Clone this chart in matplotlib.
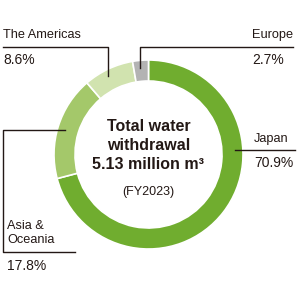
import matplotlib
matplotlib.use("Agg")
import matplotlib.pyplot as plt

# data
regions = ["Japan", "Asia &\nOceania", "The Americas", "Europe"]
shares = [70.9, 17.8, 8.6, 2.7]
colors = ["#70ad2f", "#a4c86a", "#d1e3af", "#b3b3b3"]
center_lines = ["Total water", "withdrawal", "5.13 million m³"]
fiscal_year = "(FY2023)"

plt.rcParams["font.family"] = ["Liberation Sans", "DejaVu Sans"]
ink = "#231815"


def Y(y):
    # pixel rows from the top -> data coords
    return 300 - y


fig = plt.figure(figsize=(3, 3), dpi=100)
ax = fig.add_axes([0, 0, 1, 1])

ax.pie(shares, colors=colors, startangle=90, counterclock=False,
       center=(148.5, Y(154.5)), radius=94.5,
       wedgeprops=dict(width=21, edgecolor="white", linewidth=1.2))
ax.set_xlim(0, 300)
ax.set_ylim(0, 300)
ax.set_aspect("equal")
ax.axis("off")

# centre text
for txt, yy in zip(center_lines, [126.5, 145, 164.5]):
    ax.text(148.5, Y(yy), txt, ha="center", va="center", fontsize=11.5,
            fontweight="bold", color=ink)
ax.text(148.5, Y(192), fiscal_year, ha="center", va="center", fontsize=9, color=ink)

lw = 1.0
lab = 9.2
pct = 10
# The Americas
ax.plot([3, 108, 108], [Y(47), Y(47), Y(76)], color=ink, lw=lw)
ax.text(3, Y(35), regions[2], ha="left", va="center", fontsize=lab, color=ink)
ax.text(3, Y(60.5), f"{shares[2]}%", ha="left", va="center", fontsize=pct, color=ink)

# Europe
ax.plot([140, 140, 293], [Y(68), Y(47), Y(47)], color=ink, lw=lw)
ax.text(252, Y(35), regions[3], ha="left", va="center", fontsize=lab, color=ink)
ax.text(252, Y(60.5), f"{shares[3]}%", ha="left", va="center", fontsize=pct, color=ink)

# Japan
ax.plot([235, 295], [Y(150), Y(150)], color=ink, lw=lw)
ax.text(254, Y(139), regions[0], ha="left", va="center", fontsize=lab, color=ink)
ax.text(254, Y(163), f"{shares[0]}%", ha="left", va="center", fontsize=pct, color=ink)

# Asia & Oceania
ax.plot([65, 3, 3, 75], [Y(130), Y(130), Y(252), Y(252)], color=ink, lw=lw)
ax.text(7, Y(233), regions[1], ha="left", va="center", fontsize=lab, color=ink,
        linespacing=1.3)
ax.text(7, Y(266), f"{shares[1]}%", ha="left", va="center", fontsize=pct, color=ink)

fig.savefig("out.png", dpi=100, facecolor="white")
